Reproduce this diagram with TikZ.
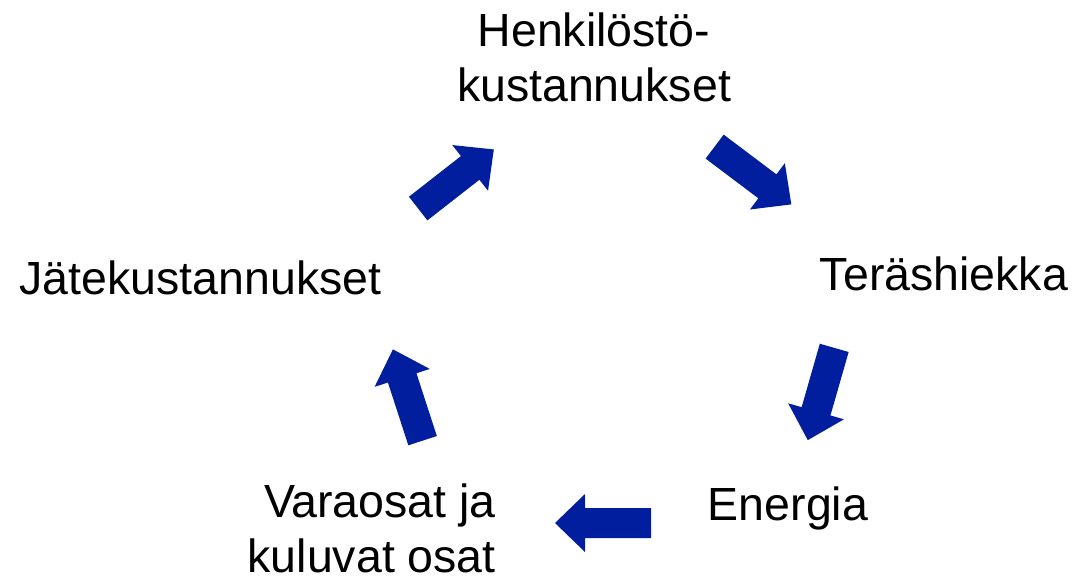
\documentclass[tikz,border=0pt]{standalone}
\usepackage{fontspec}
\setmainfont{Liberation Sans}
\definecolor{arrowblue}{RGB}{0,30,158}
\begin{document}
\begin{tikzpicture}[x=1pt,y=-1pt,
  lbl/.style={inner sep=0pt, font=\fontsize{46.5}{55}\selectfont, text=black},
  blockarrow/.style={fill=arrowblue, draw=none}]
\useasboundingbox (0,0) rectangle (1076,579);
\fill[white] (0,0) rectangle (1076,579);
% labels (base anchor = baseline of last line)
\node[lbl, align=center, anchor=base] (henk) at (594,101) {Henkilöstö-\\kustannukset};
\node[lbl, anchor=base] (tera) at (944,290) {Teräshiekka};
\node[lbl, anchor=base] (ener) at (788,520) {Energia};
\node[lbl, align=right, anchor=base east] (vara) at (496,572) {Varaosat ja\\kuluvat osat};
\node[lbl, anchor=base] (jate) at (200.5,294) {Jätekustannukset};
% block arrows
\newcommand\myblockarrow[3]{%
  \path[blockarrow, shift={(#1,#2)}, rotate=#3]
    (-48,-15) -- (18,-15) -- (18,-29) -- (48,0) -- (18,29) -- (18,15) -- (-48,15) -- cycle;}
\myblockarrow{456}{179}{38}
\myblockarrow{753}{175.5}{-37}
\myblockarrow{821}{394}{-106}
\myblockarrow{603}{523}{180}
\myblockarrow{407.75}{395}{108}
\end{tikzpicture}
\end{document}
